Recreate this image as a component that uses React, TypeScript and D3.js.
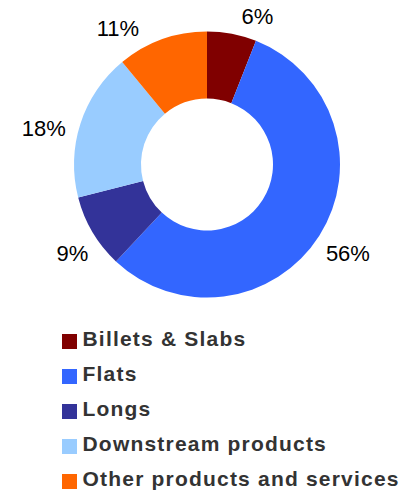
import React, { useEffect, useRef } from 'react';
import * as d3 from 'd3';

const categories = ['Billets & Slabs', 'Flats', 'Longs', 'Downstream products', 'Other products and services'];
const shares = [6, 56, 9, 18, 11];
const colors = ['#800000', '#3366FF', '#333399', '#99CCFF', '#FF6600'];

// small angle nudges (degrees) for labels, like the original layout
const labelNudge: Record<string, number> = {
  'Billets & Slabs': 8,
  'Longs': -3,
  'Downstream products': -5.5,
  'Other products and services': -13.5,
};

const W = 405;
const H = 494;

const App: React.FC = () => {
  const ref = useRef<SVGSVGElement>(null);

  useEffect(() => {
    document.body.style.margin = '0';
    if (!ref.current) return;
    const svg = d3.select(ref.current);
    svg.selectAll('*').remove();

    const cx = 207;
    const cy = 164.5;
    const outerR = 133;
    const innerR = 66;

    const data = categories.map((c, i) => ({ name: c, value: shares[i], color: colors[i] }));
    const pie = d3.pie<any>().value(d => d.value).sort(null);
    const arcs = pie(data);
    const arc = d3.arc<any>().innerRadius(innerR).outerRadius(outerR);

    const g = svg.append('g').attr('transform', `translate(${cx},${cy})`);

    g.selectAll('path')
      .data(arcs)
      .join('path')
      .attr('d', arc)
      .attr('fill', d => d.data.color);

    // percentage labels outside the ring
    const r0 = 144;
    const labels = g.selectAll('text.pct')
      .data(arcs)
      .join('text')
      .attr('class', 'pct')
      .attr('font-family', 'Liberation Sans, Arial, sans-serif')
      .attr('font-size', 22)
      .attr('fill', '#000')
      .attr('text-anchor', 'middle')
      .attr('dominant-baseline', 'central')
      .text(d => `${d.data.value}%`);

    labels.each(function (d) {
      const node = this as SVGTextElement;
      const w = node.getComputedTextLength();
      const a = (d.startAngle + d.endAngle) / 2 + ((labelNudge[d.data.name] || 0) * Math.PI) / 180;
      const s = Math.sin(a);
      const c = Math.cos(a);
      const r = r0 + Math.abs(s) * w / 2 + Math.abs(c) * 8;
      d3.select(node).attr('x', s * r).attr('y', -c * r);
    });

    // legend
    const legend = svg.append('g').attr('transform', 'translate(62, 341.5)');
    const row = legend.selectAll('g')
      .data(data)
      .join('g')
      .attr('transform', (_d, i) => `translate(0, ${i * 35})`);

    row.append('rect')
      .attr('x', 0)
      .attr('y', -7.5)
      .attr('width', 15)
      .attr('height', 15)
      .attr('fill', d => d.color);

    row.append('text')
      .attr('x', 20.5)
      .attr('y', 4.5)
      .attr('font-family', 'Liberation Sans, Arial, sans-serif')
      .attr('font-weight', 'bold')
      .attr('font-size', 21)
      .attr('letter-spacing', 1.2)
      .attr('fill', '#333333')
      .text(d => d.name);
  }, []);

  return (
    <div>
      <svg ref={ref} width={W} height={H} style={{ display: 'block', background: '#fff' }} />
    </div>
  );
};

export default App;
